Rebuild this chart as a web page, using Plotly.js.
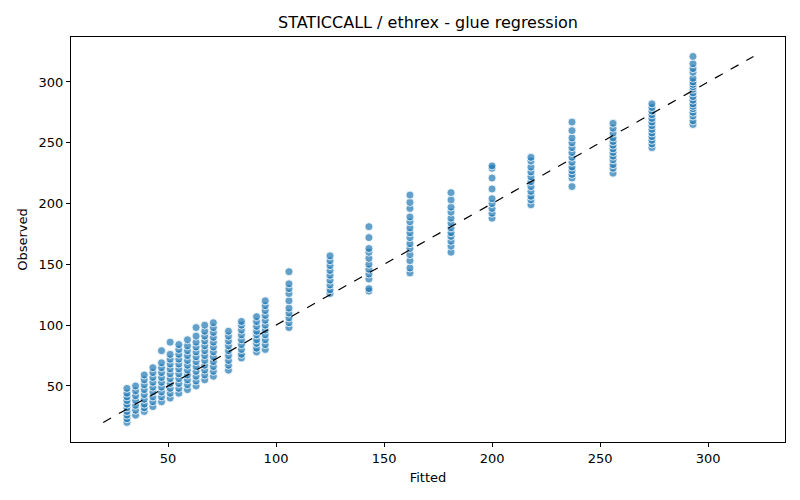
<!DOCTYPE html>
<html><head><meta charset="utf-8">
<script src="https://cdn.plot.ly/plotly-3.0.1.min.js"></script>
</head><body style="margin:0">
<div id="chart" style="width:800px;height:500px"></div>
<script>
const fittedLevels = [31,35,39,43,47,51,55,59,63,67,71,78,84,91,95,106,125,143,162,181,200,218,237,256,274,293];
const observedByLevel = [
 [20,23,26,29,32,35,38,41,44,48],
 [26,30,34,38,42,46,50],
 [29,32,35,39,43,47,51,55,59],
 [33,37,41,45,49,53,57,61,65],
 [37,41,45,49,53,57,61,65,69,79],
 [40,44,48,52,56,60,64,68,72,76,86],
 [44,48,52,56,60,64,68,72,76,80,84],
 [47,51,55,59,63,67,71,75,79,83,88],
 [50,54,58,62,66,70,74,78,82,86,91,98],
 [55,59,63,67,71,75,79,83,87,91,95,100],
 [58,62,66,70,74,78,82,86,90,94,98,102],
 [63,67,71,75,79,83,87,91,95],
 [73,76,80,84,88,92,96,100,103],
 [78,81,85,88,92,95,99,103,107],
 [80,84,88,92,96,100,104,108,112,116,120],
 [98,102,106,110,114,120,126,130,134,144],
 [126,129,133,137,141,145,149,153,157],
 [128,130,138,142,146,150,155,160,163,172,181],
 [143,147,153,158,163,167,172,176,180,185,189,196,201,207],
 [160,165,169,173,176,180,184,188,193,197,203,209],
 [188,192,196,200,204,212,221,229,231],
 [199,203,206,210,214,218,222,226,230,235,238],
 [214,221,224,227,230,234,238,242,246,250,254,260,267],
 [225,229,232,236,239,242,245,248,251,254,258,262,266],
 [246,249,252,255,258,261,264,267,270,273,276,279,282],
 [265,268,272,275,278,280,282,285,288,291,294,296,298,300,303,308,311,315,321]
];
const lineX = [20, 321];
const fitted = [], observed = [];
fittedLevels.forEach((f,i)=>observedByLevel[i].forEach(o=>{fitted.push(f);observed.push(o);}));
const data = [
 {x:fitted,y:observed,type:'scatter',mode:'markers',
  marker:{color:'rgba(31,119,180,0.7)',size:8,line:{color:'white',width:0.8}},hoverinfo:'x+y'},
 {x:lineX,y:lineX,type:'scatter',mode:'lines',line:{color:'black',width:1.2,dash:'dash'}}
];
const ax = {showgrid:false,zeroline:false,showline:true,mirror:true,linecolor:'black',linewidth:1,
  ticks:'outside',ticklen:4,tickcolor:'black',tickfont:{size:13,color:'black'}};
const layout = {
 width:800,height:500,showlegend:false,plot_bgcolor:'white',paper_bgcolor:'white',
 font:{family:'DejaVu Sans',color:'black'},
 margin:{l:71,r:15,t:37,b:58},
 title:{text:'STATICCALL / ethrex - glue regression',font:{size:16},x:0.535,y:0.956,yanchor:'middle'},
 xaxis:Object.assign({},ax,{range:[5.1,335.6],tickvals:[50,100,150,200,250,300],title:{text:'Fitted',font:{size:13},standoff:8}}),
 yaxis:Object.assign({},ax,{range:[3.9,337],tickvals:[50,100,150,200,250,300],title:{text:'Observed',font:{size:13},standoff:8}})
};
Plotly.newPlot('chart',data,layout,{displayModeBar:false});
</script></body></html>
